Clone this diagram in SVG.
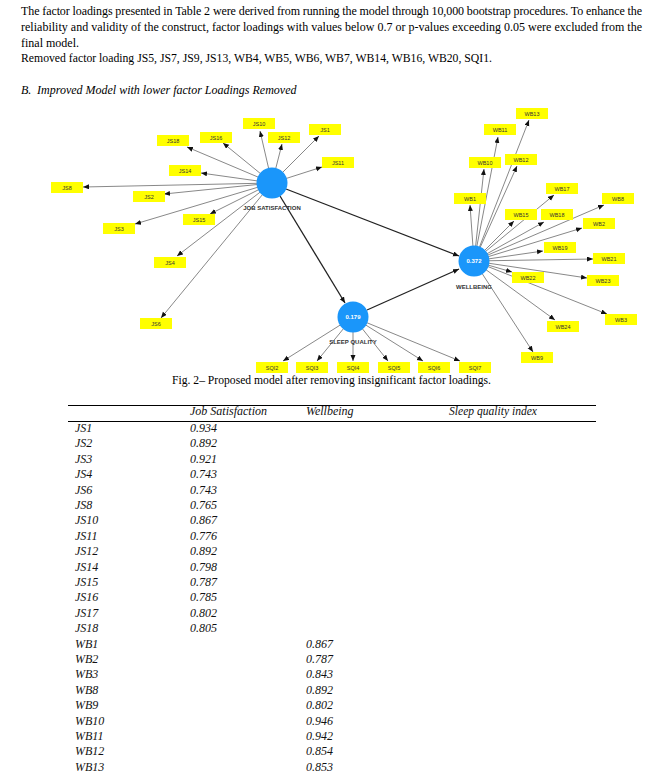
<svg xmlns="http://www.w3.org/2000/svg" width="663" height="783" viewBox="0 0 663 783">
<style>
.p{font-family:"Liberation Serif",serif;font-size:12px;fill:#000}
.pi{font-family:"Liberation Serif",serif;font-size:12px;font-style:italic;fill:#000}
.t{font-family:"Liberation Serif",serif;font-size:12px;font-style:italic;fill:#111}
.box{fill:#ffff00}
.lt{font-family:"Liberation Sans",Arial,sans-serif;font-size:5.5px;fill:#333;text-anchor:middle}
.ind{stroke:#7a7a7a;stroke-width:0.9;fill:none}
.str{stroke:#222;stroke-width:1.3;fill:none}
.lv{fill:#1a96fa}
.lvt{font-family:"Liberation Sans",Arial,sans-serif;font-size:6px;font-weight:bold;fill:#fff;text-anchor:middle}
.nl{font-family:"Liberation Sans",Arial,sans-serif;font-size:6px;font-weight:bold;fill:#333;text-anchor:middle}
.rule{stroke:#000;stroke-width:1}
</style>
<defs>
<marker id="ah" markerUnits="userSpaceOnUse" markerWidth="7" markerHeight="6" refX="6" refY="2.5" orient="auto">
<path d="M0,0 L6,2.5 L0,5 z" fill="#111"/>
</marker>
</defs>
<rect width="663" height="783" fill="#fff"/>

<g id="paragraph">
<text class="p" x="21" y="15" textLength="621" lengthAdjust="spacing">The factor loadings presented in Table 2 were derived from running the model through 10,000 bootstrap procedures. To enhance the</text>
<text class="p" x="21" y="31" textLength="621" lengthAdjust="spacing">reliability and validity of the construct, factor loadings with values below 0.7 or p-values exceeding 0.05 were excluded from the</text>
<text class="p" x="21" y="47">final model.</text>
<text class="p" x="21" y="62" textLength="471" lengthAdjust="spacingAndGlyphs">Removed factor loading JS5, JS7, JS9, JS13, WB4, WB5, WB6, WB7, WB14, WB16, WB20, SQI1.</text>
<text class="pi" x="21" y="94">B.</text>
<text class="pi" x="37" y="94">Improved Model with lower factor Loadings Removed</text>
</g>

<g id="connectors">
<line class="ind" x1="272" y1="183" x2="260" y2="131" marker-end="url(#ah)"/>
<line class="ind" x1="272" y1="183" x2="282" y2="144" marker-end="url(#ah)"/>
<line class="ind" x1="272" y1="183" x2="319" y2="136" marker-end="url(#ah)"/>
<line class="ind" x1="272" y1="183" x2="322" y2="167" marker-end="url(#ah)"/>
<line class="ind" x1="272" y1="183" x2="187" y2="147" marker-end="url(#ah)"/>
<line class="ind" x1="272" y1="183" x2="223" y2="143" marker-end="url(#ah)"/>
<line class="ind" x1="272" y1="183" x2="201" y2="173" marker-end="url(#ah)"/>
<line class="ind" x1="272" y1="183" x2="83" y2="187" marker-end="url(#ah)"/>
<line class="ind" x1="272" y1="183" x2="164" y2="194" marker-end="url(#ah)"/>
<line class="ind" x1="272" y1="183" x2="210" y2="214" marker-end="url(#ah)"/>
<line class="ind" x1="272" y1="183" x2="135" y2="224" marker-end="url(#ah)"/>
<line class="ind" x1="272" y1="183" x2="177" y2="256" marker-end="url(#ah)"/>
<line class="ind" x1="272" y1="183" x2="161" y2="318" marker-end="url(#ah)"/>
<line class="str" x1="286" y1="189" x2="459" y2="256" marker-end="url(#ah)"/>
<line class="str" x1="280" y1="196" x2="345" y2="303" marker-end="url(#ah)"/>
<line class="str" x1="367" y1="310" x2="459" y2="269" marker-end="url(#ah)"/>
<line class="ind" x1="474" y1="261" x2="529" y2="120" marker-end="url(#ah)"/>
<line class="ind" x1="474" y1="261" x2="498" y2="137" marker-end="url(#ah)"/>
<line class="ind" x1="474" y1="261" x2="484" y2="169" marker-end="url(#ah)"/>
<line class="ind" x1="474" y1="261" x2="517" y2="166" marker-end="url(#ah)"/>
<line class="ind" x1="474" y1="261" x2="470" y2="205" marker-end="url(#ah)"/>
<line class="ind" x1="474" y1="261" x2="554" y2="195" marker-end="url(#ah)"/>
<line class="ind" x1="474" y1="261" x2="604" y2="205" marker-end="url(#ah)"/>
<line class="ind" x1="474" y1="261" x2="514" y2="221" marker-end="url(#ah)"/>
<line class="ind" x1="474" y1="261" x2="544" y2="222" marker-end="url(#ah)"/>
<line class="ind" x1="474" y1="261" x2="582" y2="228" marker-end="url(#ah)"/>
<line class="ind" x1="474" y1="261" x2="543" y2="251" marker-end="url(#ah)"/>
<line class="ind" x1="474" y1="261" x2="593" y2="259" marker-end="url(#ah)"/>
<line class="ind" x1="474" y1="261" x2="512" y2="272" marker-end="url(#ah)"/>
<line class="ind" x1="474" y1="261" x2="587" y2="278" marker-end="url(#ah)"/>
<line class="ind" x1="474" y1="261" x2="607" y2="314" marker-end="url(#ah)"/>
<line class="ind" x1="474" y1="261" x2="555" y2="320" marker-end="url(#ah)"/>
<line class="ind" x1="474" y1="261" x2="533" y2="352" marker-end="url(#ah)"/>
<line class="ind" x1="353" y1="317" x2="283" y2="361" marker-end="url(#ah)"/>
<line class="ind" x1="353" y1="317" x2="317" y2="361" marker-end="url(#ah)"/>
<line class="ind" x1="353" y1="317" x2="353" y2="361" marker-end="url(#ah)"/>
<line class="ind" x1="353" y1="317" x2="388" y2="361" marker-end="url(#ah)"/>
<line class="ind" x1="353" y1="317" x2="423" y2="361" marker-end="url(#ah)"/>
<line class="ind" x1="353" y1="317" x2="460" y2="361" marker-end="url(#ah)"/>
</g>

<g id="job-satisfaction">
<circle class="lv" cx="272" cy="183" r="15.5"/>
<text class="nl" x="272" y="210">JOB SATISFACTION</text>
</g>
<g id="wellbeing">
<circle class="lv" cx="474" cy="261" r="15.5"/>
<text class="lvt" x="474" y="263">0.372</text>
<text class="nl" x="474" y="289">WELLBEING</text>
</g>
<g id="sleep-quality">
<circle class="lv" cx="353" cy="317" r="15.5"/>
<text class="lvt" x="353" y="319">0.179</text>
<text class="nl" x="353" y="344">SLEEP QUALITY</text>
</g>

<g id="JS10"><rect class="box" x="243" y="118" width="32" height="11"/><text class="lt" x="259" y="125.5">JS10</text></g>
<g id="JS12"><rect class="box" x="268" y="132" width="32" height="11"/><text class="lt" x="284" y="139.5">JS12</text></g>
<g id="JS1"><rect class="box" x="309" y="124" width="32" height="11"/><text class="lt" x="325" y="131.5">JS1</text></g>
<g id="JS11"><rect class="box" x="322" y="157" width="32" height="11"/><text class="lt" x="338" y="164.5">JS11</text></g>
<g id="JS18"><rect class="box" x="157" y="135" width="32" height="11"/><text class="lt" x="173" y="142.5">JS18</text></g>
<g id="JS16"><rect class="box" x="200" y="132" width="32" height="11"/><text class="lt" x="216" y="139.5">JS16</text></g>
<g id="JS14"><rect class="box" x="169" y="165" width="32" height="11"/><text class="lt" x="185" y="172.5">JS14</text></g>
<g id="JS8"><rect class="box" x="51" y="182" width="32" height="11"/><text class="lt" x="67" y="189.5">JS8</text></g>
<g id="JS2"><rect class="box" x="133" y="191" width="32" height="11"/><text class="lt" x="149" y="198.5">JS2</text></g>
<g id="JS15"><rect class="box" x="183" y="214" width="32" height="11"/><text class="lt" x="199" y="221.5">JS15</text></g>
<g id="JS3"><rect class="box" x="103" y="223" width="32" height="11"/><text class="lt" x="119" y="230.5">JS3</text></g>
<g id="JS4"><rect class="box" x="154" y="257" width="32" height="11"/><text class="lt" x="170" y="264.5">JS4</text></g>
<g id="JS6"><rect class="box" x="140" y="318" width="32" height="11"/><text class="lt" x="156" y="325.5">JS6</text></g>

<g id="WB13"><rect class="box" x="516" y="108" width="32" height="11"/><text class="lt" x="532" y="115.5">WB13</text></g>
<g id="WB11"><rect class="box" x="484" y="124" width="32" height="11"/><text class="lt" x="500" y="131.5">WB11</text></g>
<g id="WB10"><rect class="box" x="469" y="157" width="32" height="11"/><text class="lt" x="485" y="164.5">WB10</text></g>
<g id="WB12"><rect class="box" x="505" y="154" width="32" height="11"/><text class="lt" x="521" y="161.5">WB12</text></g>
<g id="WB1"><rect class="box" x="454" y="193" width="32" height="11"/><text class="lt" x="470" y="200.5">WB1</text></g>
<g id="WB17"><rect class="box" x="546" y="183" width="32" height="11"/><text class="lt" x="562" y="190.5">WB17</text></g>
<g id="WB8"><rect class="box" x="602" y="193" width="32" height="11"/><text class="lt" x="618" y="200.5">WB8</text></g>
<g id="WB15"><rect class="box" x="505" y="209" width="32" height="11"/><text class="lt" x="521" y="216.5">WB15</text></g>
<g id="WB18"><rect class="box" x="541" y="209" width="32" height="11"/><text class="lt" x="557" y="216.5">WB18</text></g>
<g id="WB2"><rect class="box" x="583" y="218" width="32" height="11"/><text class="lt" x="599" y="225.5">WB2</text></g>
<g id="WB19"><rect class="box" x="544" y="242" width="32" height="11"/><text class="lt" x="560" y="249.5">WB19</text></g>
<g id="WB21"><rect class="box" x="593" y="253" width="32" height="11"/><text class="lt" x="609" y="260.5">WB21</text></g>
<g id="WB22"><rect class="box" x="512" y="272" width="32" height="11"/><text class="lt" x="528" y="279.5">WB22</text></g>
<g id="WB23"><rect class="box" x="587" y="275" width="32" height="11"/><text class="lt" x="603" y="282.5">WB23</text></g>
<g id="WB3"><rect class="box" x="605" y="314" width="32" height="11"/><text class="lt" x="621" y="321.5">WB3</text></g>
<g id="WB24"><rect class="box" x="547" y="321" width="32" height="11"/><text class="lt" x="563" y="328.5">WB24</text></g>
<g id="WB9"><rect class="box" x="521" y="352" width="32" height="11"/><text class="lt" x="537" y="359.5">WB9</text></g>

<g id="SQI2"><rect class="box" x="256" y="362" width="32" height="11"/><text class="lt" x="272" y="369.5">SQI2</text></g>
<g id="SQI3"><rect class="box" x="296" y="362" width="32" height="11"/><text class="lt" x="312" y="369.5">SQI3</text></g>
<g id="SQI4"><rect class="box" x="337" y="362" width="32" height="11"/><text class="lt" x="353" y="369.5">SQI4</text></g>
<g id="SQI5"><rect class="box" x="378" y="362" width="32" height="11"/><text class="lt" x="394" y="369.5">SQI5</text></g>
<g id="SQI6"><rect class="box" x="418" y="362" width="32" height="11"/><text class="lt" x="434" y="369.5">SQI6</text></g>
<g id="SQI7"><rect class="box" x="459" y="362" width="32" height="11"/><text class="lt" x="475" y="369.5">SQI7</text></g>

<g id="caption">
<text class="p" x="172" y="384" textLength="319" lengthAdjust="spacingAndGlyphs">Fig. 2– Proposed model after removing insignificant factor loadings.</text>
</g>

<g id="table">
<line class="rule" x1="68" y1="405.5" x2="596" y2="405.5"/>
<line class="rule" x1="68" y1="421.5" x2="596" y2="421.5"/>
<text class="t" x="190" y="415">Job Satisfaction</text>
<text class="t" x="306" y="415">Wellbeing</text>
<text class="t" x="449" y="415" textLength="88" lengthAdjust="spacingAndGlyphs">Sleep quality index</text>
<g class="t">
<text x="75" y="432">JS1</text><text x="190" y="432">0.934</text>
<text x="75" y="447.4">JS2</text><text x="190" y="447.4">0.892</text>
<text x="75" y="462.8">JS3</text><text x="190" y="462.8">0.921</text>
<text x="75" y="478.2">JS4</text><text x="190" y="478.2">0.743</text>
<text x="75" y="493.6">JS6</text><text x="190" y="493.6">0.743</text>
<text x="75" y="509">JS8</text><text x="190" y="509">0.765</text>
<text x="75" y="524.4">JS10</text><text x="190" y="524.4">0.867</text>
<text x="75" y="539.8">JS11</text><text x="190" y="539.8">0.776</text>
<text x="75" y="555.2">JS12</text><text x="190" y="555.2">0.892</text>
<text x="75" y="570.6">JS14</text><text x="190" y="570.6">0.798</text>
<text x="75" y="586">JS15</text><text x="190" y="586">0.787</text>
<text x="75" y="601.4">JS16</text><text x="190" y="601.4">0.785</text>
<text x="75" y="616.8">JS17</text><text x="190" y="616.8">0.802</text>
<text x="75" y="632.2">JS18</text><text x="190" y="632.2">0.805</text>
<text x="75" y="647.6">WB1</text><text x="306" y="647.6">0.867</text>
<text x="75" y="663">WB2</text><text x="306" y="663">0.787</text>
<text x="75" y="678.4">WB3</text><text x="306" y="678.4">0.843</text>
<text x="75" y="693.8">WB8</text><text x="306" y="693.8">0.892</text>
<text x="75" y="709.2">WB9</text><text x="306" y="709.2">0.802</text>
<text x="75" y="724.6">WB10</text><text x="306" y="724.6">0.946</text>
<text x="75" y="740">WB11</text><text x="306" y="740">0.942</text>
<text x="75" y="755.4">WB12</text><text x="306" y="755.4">0.854</text>
<text x="75" y="770.8">WB13</text><text x="306" y="770.8">0.853</text>
</g>
</g>
</svg>
